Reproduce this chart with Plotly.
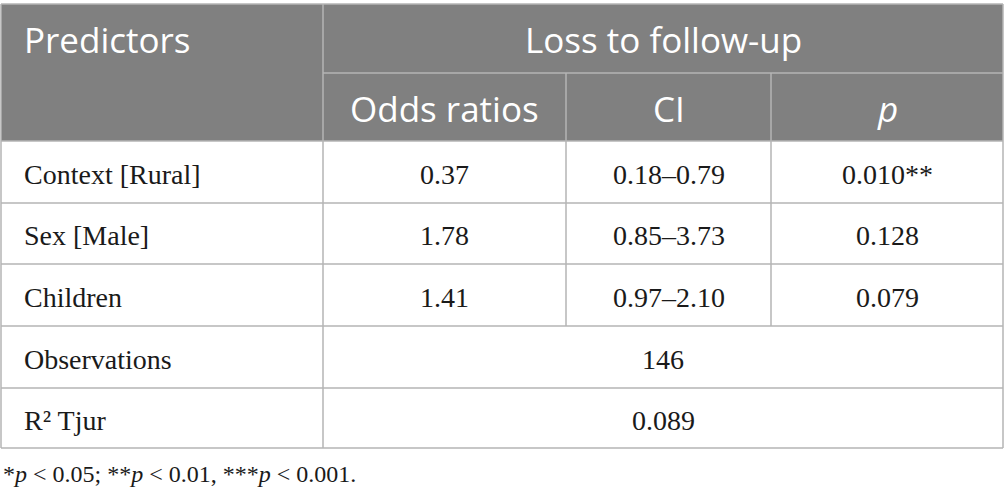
import plotly.graph_objects as go

# table content
header_top = ["Predictors", "Loss to follow-up"]
header_sub = ["Odds ratios", "CI", "<i>p</i>"]
predictors = ["Context [Rural]", "Sex [Male]", "Children"]
odds_ratios = ["0.37", "1.78", "1.41"]
ci = ["0.18–0.79", "0.85–3.73", "0.97–2.10"]
p_values = ["0.010**", "0.128", "0.079"]
stat_labels = ["Observations", "R² Tjur"]
stat_values = ["146", "0.089"]
footnote = "*<i>p</i> < 0.05; **<i>p</i> < 0.01, ***<i>p</i> < 0.001."

# grid geometry in pixels
W, H = 1005, 503
col_x = [1, 323, 566, 771, 1003]
row_y = [4, 73, 141, 203, 264, 326, 388, 448]

HEADER_BG = "#808080"
LINE = "#b4b4b4"
TEXT = "#1a1a1a"
sans = "Open Sans"
serif = "Liberation Serif"
HEAD_SIZE = 35
BODY_SIZE = 28

fig = go.Figure()
shapes = []
annotations = []

# header block
shapes.append(dict(type="rect", x0=col_x[0], x1=col_x[-1], y0=row_y[0], y1=row_y[2],
                   fillcolor=HEADER_BG, line=dict(width=0), layer="below"))


def hline(y, x0, x1):
    shapes.append(dict(type="line", x0=x0, x1=x1, y0=y, y1=y, line=dict(color=LINE, width=1.5)))


def vline(x, y0, y1):
    shapes.append(dict(type="line", x0=x, x1=x, y0=y0, y1=y1, line=dict(color=LINE, width=1.5)))


# horizontal borders
hline(row_y[0], col_x[0], col_x[-1])
hline(row_y[1], col_x[1], col_x[-1])
for y in row_y[2:]:
    hline(y, col_x[0], col_x[-1])

# vertical borders
vline(col_x[0], row_y[0], row_y[-1])
vline(col_x[-1], row_y[0], row_y[-1])
vline(col_x[1], row_y[0], row_y[-1])
vline(col_x[2], row_y[1], row_y[5])
vline(col_x[3], row_y[1], row_y[5])


def cell_text(text, x, y, font, size, color, anchor="center"):
    annotations.append(dict(text=text, x=x, y=y, xref="x", yref="y", showarrow=False,
                            xanchor=anchor, yanchor="middle",
                            font=dict(family=font, size=size, color=color)))


def mid(a, b):
    return (a + b) / 2


# header text
cell_text(header_top[0], col_x[0] + 21, mid(row_y[0], row_y[1]) + 1, sans, HEAD_SIZE, "white", "left")
cell_text(header_top[1], mid(col_x[1], col_x[-1]), mid(row_y[0], row_y[1]) + 1, sans, HEAD_SIZE, "white")
for j, h in enumerate(header_sub):
    cell_text(h, mid(col_x[j + 1], col_x[j + 2]), mid(row_y[1], row_y[2]) + 1, sans, HEAD_SIZE, "white")

# body rows
for i, name in enumerate(predictors):
    yc = mid(row_y[i + 2], row_y[i + 3]) + 2
    cell_text(name, col_x[0] + 21, yc, serif, BODY_SIZE, TEXT, "left")
    for j, v in enumerate([odds_ratios[i], ci[i], p_values[i]]):
        cell_text(v, mid(col_x[j + 1], col_x[j + 2]), yc, serif, BODY_SIZE, TEXT)

for k, name in enumerate(stat_labels):
    yc = mid(row_y[k + 5], row_y[k + 6]) + 2
    cell_text(name, col_x[0] + 21, yc, serif, BODY_SIZE, TEXT, "left")
    cell_text(stat_values[k], mid(col_x[1], col_x[-1]), yc, serif, BODY_SIZE, TEXT)

cell_text(footnote, 1, 474, serif, 24, TEXT, "left")

fig.update_layout(
    width=W, height=H,
    margin=dict(l=0, r=0, t=0, b=0),
    paper_bgcolor="white", plot_bgcolor="white",
    shapes=shapes, annotations=annotations,
    xaxis=dict(range=[0, W], visible=False, fixedrange=True),
    yaxis=dict(range=[H, 0], visible=False, fixedrange=True),
    showlegend=False,
)

# drop the browser's default page margin so the table sits at the top-left
fig.write_html("out.html", config={"displayModeBar": False},
               post_script="document.body.style.margin='0px';")
